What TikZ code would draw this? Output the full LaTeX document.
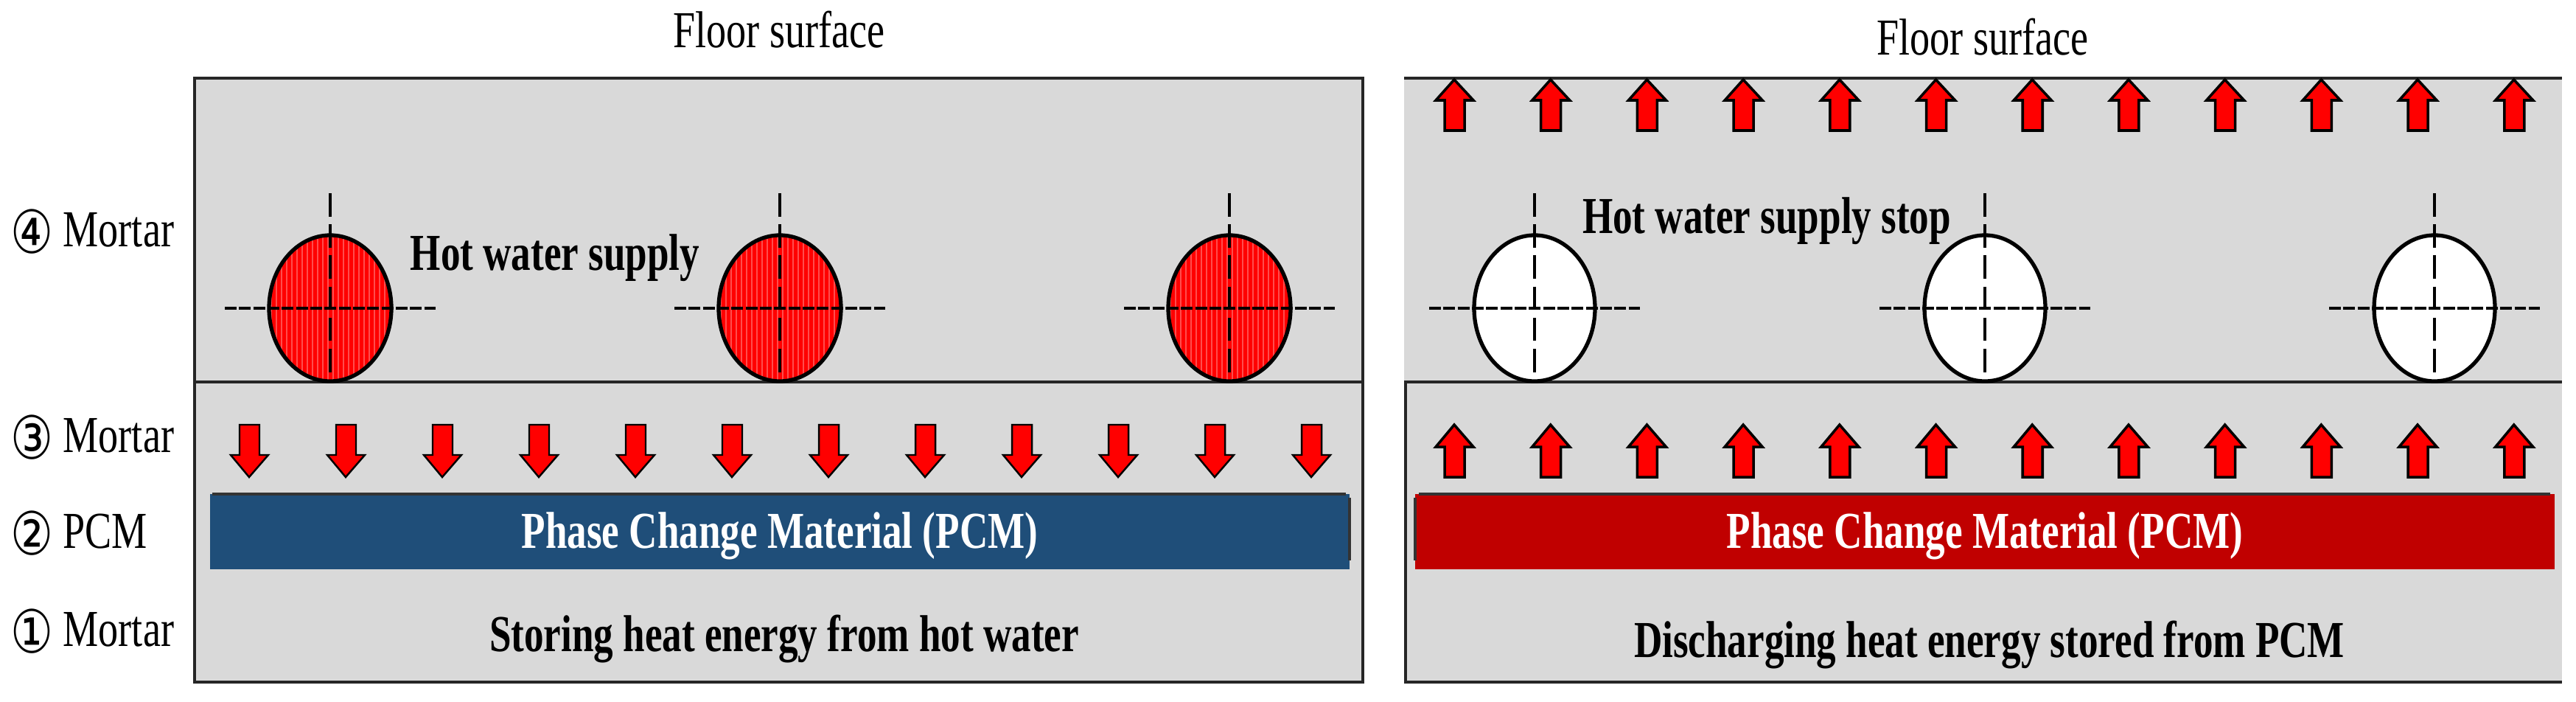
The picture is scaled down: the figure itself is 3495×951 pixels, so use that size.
\documentclass[tikz,border=0pt]{standalone}
\usepackage{fontspec}
\setmainfont[FakeStretch=0.77,BoldFeatures={FakeStretch=0.755}]{Liberation Serif}
\newfontfamily\circfont[FakeStretch=0.8]{DejaVu Sans}
\newcommand{\circnum}[1]{\raisebox{-2.6pt}{\circfont\fontsize{23}{24}\selectfont #1}\hspace{3.7pt}}
\definecolor{mortargray}{HTML}{D9D9D9}
\definecolor{pcmblue}{HTML}{1F4E79}
\definecolor{pcmred}{HTML}{C00000}
\tikzset{
  plainlabel/.style={anchor=base,inner sep=0pt,font=\fontsize{20}{22}\selectfont},
  sidelabel/.style={plainlabel,anchor=base west},
  boldlabel/.style={plainlabel,font=\fontsize{20}{22}\selectfont\bfseries},
  heatarrow/.style={draw=black,line width=1pt,fill=red,line join=miter},
  pipeline/.style={black,line width=1.5pt},
  axisdash/.style={black,line width=1.4pt,dash pattern=on 4.5pt off 1pt},
  vertdash/.style={black,line width=1pt,dash pattern=on 9pt off 3pt},
  wall/.style={black!85,line width=1.2pt},
}
\begin{document}
\begin{tikzpicture}[x=0.01cm,y=-0.01cm]
  \useasboundingbox (0,0) rectangle (3495,951);
  \fill[white] (0,0) rectangle (3495,951);
  % left panel
  \fill[mortargray] (264,106) rectangle (1849,925);
  \draw[wall] (264,106) rectangle (1849,925);
  \draw[wall] (264,518)--(1849,518);
  % right panel
  \fill[mortargray] (1905,106) rectangle (3476,925);
  \draw[wall] (1905,106)--(3476,106);
  \draw[wall] (1907,518)--(1907,925);
  \draw[wall] (1905,518)--(3476,518);
  \draw[wall] (1905,925)--(3476,925);
  % pcm bars
  \fill[pcmblue] (285,670) rectangle (1831,772);
  \draw[black!80,line width=1pt] (288,670)--(1826,670);
  \draw[black!80,line width=1pt] (1831,675)--(1831,760);
  \fill[pcmred] (1920,670) rectangle (3466,772);
  \draw[black!80,line width=1pt] (1925,670)--(3460,670);
  \draw[black!80,line width=1pt] (1920,675)--(1920,760);
  % hot pipes
  \foreach \x in {448,1058,1668}{
    \fill[red] (\x,418) ellipse (83 and 99);
    \begin{scope}
      \clip (\x,418) ellipse (83 and 99);
      \foreach \d in {-80,-73,...,80}
        \draw[white,opacity=.3,line width=.8pt] (\x+\d,318)--(\x+\d,518);
    \end{scope}
    \draw[pipeline] (\x,418) ellipse (83 and 99);
    \draw[axisdash] (\x-143,418)--(\x+143,418);
    \draw[vertdash] (\x,262)--(\x,517);
  }
  % stopped pipes
  \foreach \x in {2082,2693,3303}{
    \draw[pipeline,fill=white] (\x,418) ellipse (82 and 99);
    \draw[axisdash] (\x-143,418)--(\x+143,418);
    \draw[vertdash] (\x,262)--(\x,517);
  }
  % arrows
  \foreach \i in {0,...,11}{
    \pgfmathsetmacro{\xa}{338+131*\i}
    \draw[heatarrow,line width=.7pt] (\xa-13,576)--++(27,0)--++(0,41)--++(12,0)--(\xa,647)--(\xa-25,617)--++(12,0)--cycle;
    \pgfmathsetmacro{\xb}{1973+130.7*\i}
    \draw[heatarrow] (\xb-13,177)--++(27,0)--++(0,-41)--++(12,0)--(\xb,108)--(\xb-25,136)--++(12,0)--cycle;
    \draw[heatarrow] (\xb-13,647)--++(27,0)--++(0,-41)--++(12,0)--(\xb,576)--(\xb-25,606)--++(12,0)--cycle;
  }
  % texts
  \node[plainlabel] (floorleft) at (1057,64) {Floor surface};
  \node[plainlabel] (floorright) at (2690,74) {Floor surface};
  \node[sidelabel] (mortarfour) at (14,334) {\circnum{④}Mortar};
  \node[sidelabel] (mortarthree) at (14,613) {\circnum{③}Mortar};
  \node[sidelabel] (pcmtwo) at (14,743) {\circnum{②}PCM};
  \node[sidelabel] (mortarone) at (14,876) {\circnum{①}Mortar};
  \node[boldlabel] (supplyon) at (753,366) {Hot water supply};
  \node[boldlabel] (supplyoff) at (2397,316) {Hot water supply stop};
  \node[boldlabel,white] (pcmleft) at (1058,743) {Phase Change Material (PCM)};
  \node[boldlabel,white] (pcmright) at (2693,743) {Phase Change Material (PCM)};
  \node[boldlabel] (storing) at (1064,883) {Storing heat energy from hot water};
  \node[boldlabel] (discharging) at (2699,891) {Discharging heat energy stored from PCM};
\end{tikzpicture}
\end{document}
